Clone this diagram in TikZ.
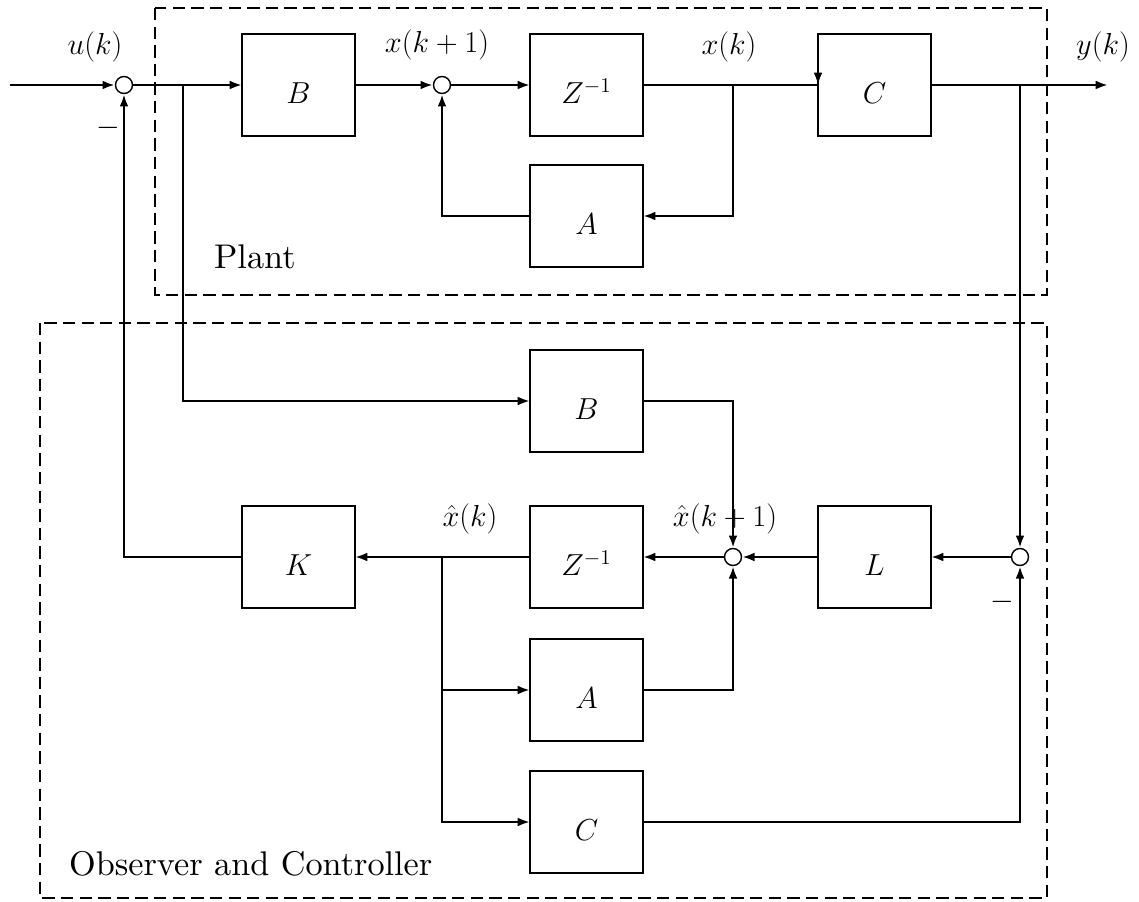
\documentclass[tikz,border=0pt]{standalone}
\usepackage[no-math]{fontspec}
\newfontfamily\tenrm{lmroman10-regular.otf}
\usetikzlibrary{arrows.meta}
\begin{document}
\begin{tikzpicture}[x=0.02cm,y=-0.02cm, line width=1.3pt,
 blk/.style={draw, line width=1.6pt, minimum width=2.26cm, minimum height=2.04cm, inner sep=0pt, outer sep=0pt, text height=0.73cm, text depth=0cm, font=\fontsize{17}{20}\selectfont},
 sumc/.style={draw, circle, fill=white, minimum size=0.34cm, inner sep=0pt, line width=0.8pt},
 lbl/.style={font=\fontsize{17}{20}\selectfont},
 txt/.style={anchor=base west, inner sep=0pt, font=\tenrm\fontsize{19.5}{23}\selectfont},
 arr/.style={-{Latex[length=7pt,width=5pt]}},
 grp/.style={draw, dash pattern=on 7pt off 3.6pt, line width=1.3pt}]
\useasboundingbox (0,0) rectangle (1139,902);
% group frames
\draw[grp] (155,8) rectangle (1047,295);
\draw[grp] (40,323) rectangle (1047,898);
% blocks
\node[sumc] (s1) at (124,85) {};
\node[blk] (B1) at (298.5,85) {$B$};
\node[sumc] (s2) at (442,85) {};
\node[blk] (Z1) at (586.5,85) {$Z^{-1}$};
\node[blk] (C1) at (874.5,85) {$C$};
\node[blk] (A1) at (586.5,216) {$A$};
\node[blk] (B2) at (586.5,401) {$B$};
\node[blk] (K) at (298.5,557) {$K$};
\node[blk] (Z2) at (586.5,557) {$Z^{-1}$};
\node[sumc] (s3) at (733,557) {};
\node[blk] (L) at (874.5,557) {$L$};
\node[sumc] (s4) at (1020,557) {};
\node[blk] (A2) at (586.5,690) {$A$};
\node[blk] (C2) at (586.5,822) {$C$};
\coordinate (in) at (10,85);
\coordinate (out) at (1108,85);
\coordinate (br1) at (183,85);
\coordinate (br2) at (733,85);
\coordinate (br3) at (1020,85);
\coordinate (br4) at (442,557);
% connectors
\draw[arr] (in) -- (s1);
\draw[arr] (s1) -- (B1);
\draw[arr] (B1) -- (s2);
\draw[arr] (s2) -- (Z1);
\draw (Z1) -- (C1.west);
\draw[arr] ([yshift=0.3cm]C1.west) -- (C1.west);
\draw[arr] (C1) -- (out);
\draw[arr] (br2) |- (A1.east);
\draw[arr] (A1.west) -| (s2.south);
\draw[arr] (br3) -- (s4.north);
\draw[arr] (br1) |- (B2.west);
\draw[arr] (B2.east) -| (s3.north);
\draw[arr] (s4) -- (L);
\draw[arr] (L) -- (s3);
\draw[arr] (s3) -- (Z2);
\draw[arr] (Z2) -- (K);
\draw[arr] (br4) |- (A2.west);
\draw[arr] (br4) |- (C2.west);
\draw[arr] (A2.east) -| (s3.south);
\draw[arr] (C2.east) -| (s4.south);
\draw[arr] (K.west) -| (s1.south);
% labels
\node[lbl] (lu) at (95,47) {$u(k)$};
\node[lbl] (lx1) at (437,45) {$x(k+1)$};
\node[lbl] (lx) at (729,47) {$x(k)$};
\node[lbl] (ly) at (1103,47) {$y(k)$};
\node[lbl] (m1) at (108,128) {$-$};
\node[lbl] (m2) at (1002,602) {$-$};
\node[lbl] (lxh) at (470,519) {$\hat{x}(k)$};
\node[lbl] (lxh1) at (725,519) {$\hat{x}(k+1)$};
\node[txt] (plant) at (213,269) {Plant};
\node[txt] (obs) at (68,875) {Observer and Controller};
\end{tikzpicture}
\end{document}
